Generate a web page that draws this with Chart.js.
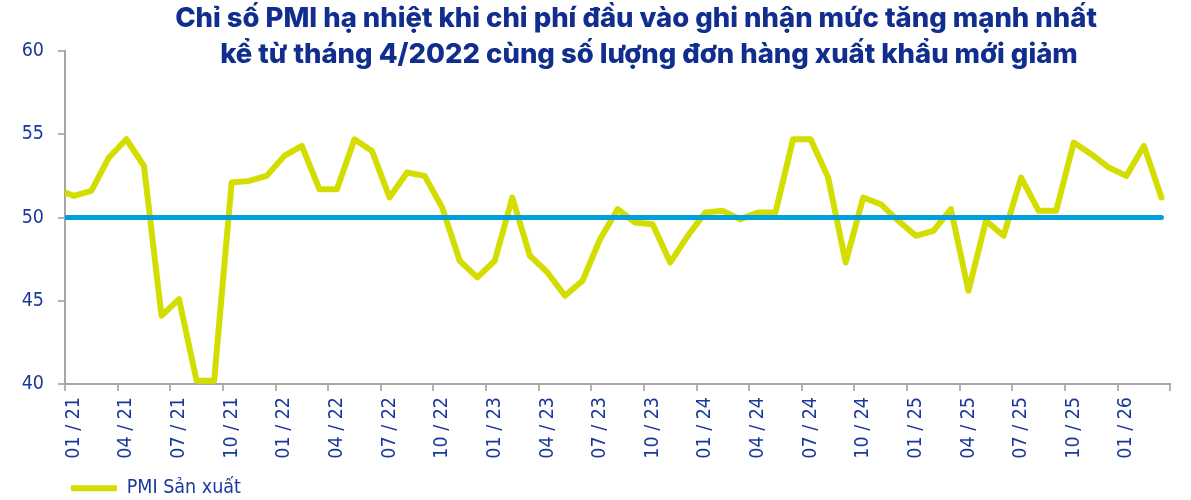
<!DOCTYPE html>
<html lang="vi">
<head>
<meta charset="utf-8">
<script src="https://cdn.jsdelivr.net/npm/chart.js@4.4.1/dist/chart.umd.min.js"></script>
<style>
  html, body { margin: 0; padding: 0; background: #fff; }
  #pmiChart { display: block; }
</style>
</head>
<body>
<canvas id="pmiChart" width="1191" height="500"></canvas>
<script>
const titleLines = [
  'Chỉ số PMI hạ nhiệt khi chi phí đầu vào ghi nhận mức tăng mạnh nhất',
  'kể từ tháng 4/2022 cùng số lượng đơn hàng xuất khẩu mới giảm'
];
const seriesName = 'PMI Sản xuất';

// first month (12 / 20) sits left of the axis and only shows as the clipped start of the line
const months = [
  '12 / 20',
  '01 / 21', '02 / 21', '03 / 21', '04 / 21', '05 / 21', '06 / 21', '07 / 21', '08 / 21', '09 / 21', '10 / 21', '11 / 21', '12 / 21',
  '01 / 22', '02 / 22', '03 / 22', '04 / 22', '05 / 22', '06 / 22', '07 / 22', '08 / 22', '09 / 22', '10 / 22', '11 / 22', '12 / 22',
  '01 / 23', '02 / 23', '03 / 23', '04 / 23', '05 / 23', '06 / 23', '07 / 23', '08 / 23', '09 / 23', '10 / 23', '11 / 23', '12 / 23',
  '01 / 24', '02 / 24', '03 / 24', '04 / 24', '05 / 24', '06 / 24', '07 / 24', '08 / 24', '09 / 24', '10 / 24', '11 / 24', '12 / 24',
  '01 / 25', '02 / 25', '03 / 25', '04 / 25', '05 / 25', '06 / 25', '07 / 25', '08 / 25', '09 / 25', '10 / 25', '11 / 25', '12 / 25',
  '01 / 26', '02 / 26', '03 / 26'
];

const pmi = [
  51.7,
  51.3, 51.6, 53.6, 54.7, 53.1, 44.1, 45.1, 40.2, 40.2, 52.1, 52.2, 52.5,
  53.7, 54.3, 51.7, 51.7, 54.7, 54.0, 51.2, 52.7, 52.5, 50.6, 47.4, 46.4,
  47.4, 51.2, 47.7, 46.7, 45.3, 46.2, 48.7, 50.5, 49.7, 49.6, 47.3, 48.9,
  50.3, 50.4, 49.9, 50.3, 50.3, 54.7, 54.7, 52.4, 47.3, 51.2, 50.8, 49.8,
  48.9, 49.2, 50.5, 45.6, 49.8, 48.9, 52.4, 50.4, 50.4, 54.5, 53.8, 53.0,
  52.5, 54.3, 51.2
];

const neutralLevel = 50;
const firstShown = '01 / 21';
const yMin = 40, yMax = 60, yStep = 5;
const labelEvery = 3;

const axisGray = '#a6a6a6';
const tickBlue = '#1a389c';
const tickFont = { family: "'DejaVu Sans Condensed', 'DejaVu Sans', sans-serif", size: 19.5 };

// title: two centred lines, sized so the first line spans the same width as in the source
const titlePlugin = {
  id: 'twoLineTitle',
  afterDraw(chart) {
    const ctx = chart.ctx;
    const family = "Inter, Roboto, sans-serif";
    ctx.save();
    ctx.font = '800 100px ' + family;
    const size = 100 * 922 / ctx.measureText(titleLines[0]).width;
    ctx.font = '800 ' + size.toFixed(2) + 'px ' + family;
    ctx.fillStyle = '#112d8e';
    ctx.textAlign = 'center';
    ctx.textBaseline = 'alphabetic';
    ctx.fillText(titleLines[0], 636, 27);
    ctx.fillText(titleLines[1], 649, 63);
    ctx.restore();
  }
};

const showTick = ctx => ctx.tick === undefined || (ctx.tick.value - 1) % labelEvery === 0;

new Chart(document.getElementById('pmiChart'), {
  type: 'line',
  data: {
    labels: months,
    datasets: [
      {
        label: 'neutral',
        data: months.map(() => neutralLevel),
        borderColor: '#00a0dc',
        borderWidth: 5,
        borderCapStyle: 'round',
        pointRadius: 0,
        clip: { left: 0, top: 5, right: 5, bottom: 5 },
        order: 0
      },
      {
        label: seriesName,
        data: pmi,
        borderColor: '#d3de00',
        backgroundColor: '#d3de00',
        borderWidth: 6,
        borderCapStyle: 'round',
        borderJoinStyle: 'round',
        pointRadius: 0,
        tension: 0,
        clip: { left: 0, top: 5, right: 5, bottom: 5 },
        order: 1
      }
    ]
  },
  options: {
    responsive: false,
    animation: false,
    devicePixelRatio: 1,
    layout: { padding: { top: 51, right: 19, bottom: -8, left: 0 } },
    plugins: {
      title: { display: false },
      tooltip: { enabled: false },
      legend: {
        position: 'bottom',
        align: 'start',
        fullSize: false,
        labels: {
          filter: item => item.text === seriesName,
          usePointStyle: true,
          pointStyle: 'line',
          pointStyleWidth: 46,
          padding: 6,
          color: tickBlue,
          font: { family: tickFont.family, size: 19.5 }
        }
      }
    },
    scales: {
      x: {
        type: 'category',
        min: firstShown,
        offset: true,
        afterFit: scale => { scale.height = 88.5; },
        grid: {
          offset: true,
          drawOnChartArea: false,
          tickLength: 7,
          lineWidth: 2,
          tickColor: ctx => showTick(ctx) ? '#b3b3b3' : 'rgba(0,0,0,0)'
        },
        border: { display: true, color: axisGray, width: 2 },
        ticks: {
          autoSkip: false,
          minRotation: 90,
          maxRotation: 90,
          padding: 6,
          color: tickBlue,
          font: tickFont,
          callback: value => ((value - 1) % labelEvery === 0 ? months[value] : '')
        }
      },
      y: {
        min: yMin,
        max: yMax,
        afterFit: scale => { scale.width = 65; },
        grid: {
          drawOnChartArea: false,
          tickLength: 7,
          lineWidth: 2,
          color: '#b3b3b3'
        },
        border: { display: true, color: axisGray, width: 2 },
        ticks: {
          stepSize: yStep,
          padding: 14,
          color: tickBlue,
          font: tickFont
        }
      }
    }
  },
  plugins: [titlePlugin]
});
</script>
</body>
</html>
